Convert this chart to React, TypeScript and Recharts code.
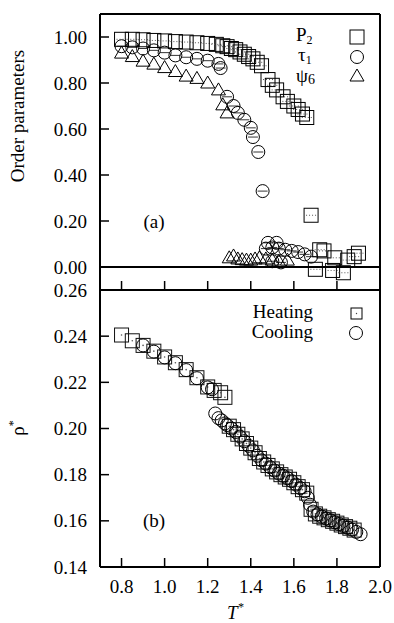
import React from "react";
import {
  ScatterChart,
  Scatter,
  XAxis,
  YAxis,
  ReferenceLine,
} from "recharts";

// ---- panel (a): order parameters ----
const p2T = [0.8, 0.85, 0.9, 0.95, 1.0, 1.05, 1.1, 1.15, 1.2, 1.24, 1.27, 1.29, 1.31, 1.33, 1.35, 1.37, 1.39, 1.41, 1.43, 1.45, 1.48, 1.5, 1.52, 1.55, 1.57, 1.6, 1.62, 1.64, 1.66, 1.68, 1.7, 1.72, 1.74, 1.78, 1.79, 1.83, 1.85, 1.88, 1.9];
const p2V = [0.99, 0.99, 0.988, 0.985, 0.983, 0.98, 0.978, 0.975, 0.972, 0.968, 0.962, 0.958, 0.95, 0.945, 0.935, 0.925, 0.915, 0.905, 0.89, 0.875, 0.815, 0.79, 0.77, 0.74, 0.72, 0.7, 0.685, 0.665, 0.65, 0.225, -0.01, 0.075, 0.07, -0.015, 0.04, -0.025, 0.03, 0.045, 0.06];

const tauT = [0.8, 0.85, 0.9, 0.95, 1.0, 1.05, 1.1, 1.15, 1.2, 1.25, 1.26, 1.29, 1.32, 1.34, 1.37, 1.4, 1.41, 1.435, 1.455, 1.48, 1.52, 1.47, 1.5, 1.53, 1.56, 1.59, 1.62, 1.65, 1.68, 1.5, 1.54];
const tauV = [0.96, 0.955, 0.95, 0.942, 0.932, 0.92, 0.912, 0.905, 0.897, 0.883, 0.865, 0.74, 0.7, 0.67, 0.64, 0.605, 0.565, 0.5, 0.33, 0.105, 0.105, 0.08, 0.085, 0.08, 0.075, 0.07, 0.065, 0.055, 0.045, 0.025, 0.02];

const psiT = [0.8, 0.85, 0.9, 0.95, 1.0, 1.05, 1.1, 1.15, 1.2, 1.25, 1.27, 1.29, 1.3, 1.32, 1.34, 1.36, 1.38, 1.4, 1.42, 1.44, 1.47, 1.5, 1.53, 1.57];
const psiV = [0.93, 0.915, 0.895, 0.882, 0.867, 0.85, 0.83, 0.82, 0.8, 0.77, 0.705, 0.67, 0.04, 0.048, 0.035, 0.032, 0.03, 0.03, 0.035, 0.04, 0.035, 0.03, 0.025, 0.03];

// ---- panel (b): density ----
const heatT = [0.8, 0.85, 0.9, 0.95, 1.0, 1.05, 1.1, 1.15, 1.2, 1.23, 1.26, 1.28, 1.3, 1.32, 1.34, 1.36, 1.38, 1.4, 1.42, 1.44, 1.46, 1.48, 1.5, 1.52, 1.54, 1.56, 1.58, 1.6, 1.62, 1.64, 1.66, 1.68, 1.7, 1.72, 1.74, 1.76, 1.78, 1.8, 1.82, 1.84, 1.86, 1.88];
const heatRho = [0.2405, 0.238, 0.236, 0.2335, 0.231, 0.2285, 0.2255, 0.222, 0.218, 0.2165, 0.2155, 0.2135, 0.201, 0.1995, 0.1975, 0.1955, 0.1935, 0.1915, 0.1895, 0.187, 0.1855, 0.184, 0.1825, 0.1812, 0.18, 0.179, 0.178, 0.1765, 0.1748, 0.1735, 0.172, 0.165, 0.163, 0.162, 0.1613, 0.1605, 0.1598, 0.159, 0.1582, 0.1575, 0.1568, 0.156];

const coolT = [0.9, 0.95, 1.0, 1.05, 1.1, 1.15, 1.2, 1.22, 1.235, 1.25, 1.265, 1.28, 1.29, 1.31, 1.33, 1.35, 1.37, 1.39, 1.41, 1.43, 1.45, 1.47, 1.49, 1.51, 1.53, 1.55, 1.57, 1.59, 1.61, 1.63, 1.65, 1.665, 1.675, 1.69, 1.71, 1.73, 1.75, 1.77, 1.79, 1.81, 1.83, 1.85, 1.87, 1.89, 1.91];
const coolRho = [0.236, 0.2333, 0.2308, 0.2283, 0.2253, 0.2218, 0.2178, 0.217, 0.2065, 0.2045, 0.2035, 0.2022, 0.2015, 0.2, 0.1985, 0.1965, 0.1945, 0.1925, 0.1905, 0.1882, 0.1862, 0.1848, 0.1832, 0.1818, 0.1805, 0.1795, 0.1785, 0.1772, 0.1757, 0.1742, 0.1728, 0.17, 0.167, 0.164, 0.1628, 0.1618, 0.161, 0.1602, 0.1594, 0.1586, 0.1578, 0.157, 0.1562, 0.1552, 0.1542];

const xTicks = [0.8, 1.0, 1.2, 1.4, 1.6, 1.8, 2.0];
const yTicksA = [0, 0.2, 0.4, 0.6, 0.8, 1.0];
const yTicksB = [0.14, 0.16, 0.18, 0.2, 0.22, 0.24, 0.26];

const zip = (xs: number[], ys: number[]) => xs.map((x, i) => ({ x, y: ys[i] }));

const FONT = "'Liberation Serif', 'Times New Roman', serif";
const TL = 9; // inward tick length

// marker shapes
const Square = ({ cx, cy }: any) =>
  cx == null ? null : (
    <g>
      <rect x={cx - 7} y={cy - 7} width={14} height={14} fill="none" stroke="#000" strokeWidth={1} />
      <line x1={cx - 5} x2={cx + 5} y1={cy} y2={cy} stroke="#555" strokeDasharray="1 2" />
    </g>
  );
const SmallSquare = ({ cx, cy }: any) =>
  cx == null ? null : (
    <g>
      <rect x={cx - 7} y={cy - 7} width={14} height={14} fill="none" stroke="#111" strokeWidth={1} />
      <circle cx={cx} cy={cy} r={0.8} fill="#555" />
    </g>
  );
const CircleBar = ({ cx, cy }: any) =>
  cx == null ? null : (
    <g>
      <circle cx={cx} cy={cy} r={6.5} fill="none" stroke="#000" strokeWidth={1} />
      <line x1={cx - 5} x2={cx + 5} y1={cy} y2={cy} stroke="#000" strokeWidth={0.8} />
    </g>
  );
const Circle = ({ cx, cy }: any) =>
  cx == null ? null : <circle cx={cx} cy={cy} r={6.5} fill="none" stroke="#000" strokeWidth={1} />;
const Triangle = ({ cx, cy }: any) =>
  cx == null ? null : (
    <polygon
      points={`${cx},${cy - 7} ${cx - 7},${cy + 5} ${cx + 7},${cy + 5}`}
      fill="none"
      stroke="#000"
      strokeWidth={1}
    />
  );

// ticks
const BottomTick = ({ x, y, payload, showText }: any) => (
  <g>
    <line x1={x} x2={x} y1={y} y2={y - TL} stroke="#000" strokeWidth={1.5} />
    {showText && (
      <text x={x} y={y + 26} textAnchor="middle" fontFamily={FONT} fontSize={19} fill="#000">
        {payload.value.toFixed(1)}
      </text>
    )}
  </g>
);
const TopTick = ({ x, y }: any) => (
  <line x1={x} x2={x} y1={y} y2={y + TL} stroke="#000" strokeWidth={1.5} />
);
const LeftTick = ({ x, y, payload }: any) => (
  <g>
    <line x1={x} x2={x + TL} y1={y} y2={y} stroke="#000" strokeWidth={1.5} />
    <text x={x - 13} y={y + 6.5} textAnchor="end" fontFamily={FONT} fontSize={19} fill="#000">
      {payload.value.toFixed(2)}
    </text>
  </g>
);
const RightTick = ({ x, y }: any) => (
  <line x1={x} x2={x - TL} y1={y} y2={y} stroke="#000" strokeWidth={1.5} />
);

const axisLine = { stroke: "#000", strokeWidth: 2 };

function Axes({ yDomain, yTicks, showX }: any) {
  return [
    <XAxis key="xb" xAxisId="b" dataKey="x" type="number" domain={[0.7, 2.0]} ticks={xTicks}
      height={10} tickSize={0} tickMargin={0} axisLine={axisLine} tickLine={false}
      tick={<BottomTick showText={showX} />} interval={0} />,
    <XAxis key="xt" xAxisId="t" dataKey="x" type="number" orientation="top" domain={[0.7, 2.0]} ticks={xTicks}
      height={4} tickSize={0} tickMargin={0} axisLine={axisLine} tickLine={false}
      tick={<TopTick />} interval={0} />,
    <YAxis key="yl" yAxisId="l" dataKey="y" type="number" domain={yDomain} ticks={yTicks}
      width={100} tickSize={0} tickMargin={0} axisLine={axisLine} tickLine={false}
      tick={<LeftTick />} interval={0} />,
    <YAxis key="yr" yAxisId="r" dataKey="y" type="number" orientation="right" domain={yDomain} ticks={yTicks}
      width={4} tickSize={0} tickMargin={0} axisLine={axisLine} tickLine={false}
      tick={<RightTick />} interval={0} />,
  ];
}

export default function App() {
  return (
    <div style={{ position: "absolute", left: 0, top: 0, width: 394, height: 623, background: "#fff", fontFamily: FONT }}>
      {/* panel (a): plot area y 14..290 */}
      <div style={{ position: "absolute", left: 0, top: 0 }}>
        <ScatterChart width={394} height={300} margin={{ top: 10, right: 10, left: 0, bottom: 0 }}>
          {Axes({ yDomain: [-0.1, 1.1], yTicks: yTicksA, showX: false })}
          <ReferenceLine xAxisId="b" yAxisId="l" y={0} stroke="#000" strokeWidth={2} />
          <Scatter xAxisId="b" yAxisId="l" data={zip(psiT, psiV)} shape={<Triangle />} isAnimationActive={false} />
          <Scatter xAxisId="b" yAxisId="l" data={zip(tauT, tauV)} shape={<CircleBar />} isAnimationActive={false} />
          <Scatter xAxisId="b" yAxisId="l" data={zip(p2T, p2V)} shape={<Square />} isAnimationActive={false} />
        </ScatterChart>
      </div>
      {/* panel (b): plot area y 290..567 */}
      <div style={{ position: "absolute", left: 0, top: 270 }}>
        <ScatterChart width={394} height={353} margin={{ top: 16, right: 10, left: 0, bottom: 46 }}>
          {Axes({ yDomain: [0.14, 0.26], yTicks: yTicksB, showX: true })}
          <Scatter xAxisId="b" yAxisId="l" data={zip(heatT, heatRho)} shape={<SmallSquare />} isAnimationActive={false} />
          <Scatter xAxisId="b" yAxisId="l" data={zip(coolT, coolRho)} shape={<Circle />} isAnimationActive={false} />
        </ScatterChart>
      </div>
      {/* labels and legends */}
      <svg width={394} height={623} style={{ position: "absolute", left: 0, top: 0, pointerEvents: "none" }}
        fontFamily={FONT} fill="#000">
        <text x={296} y={41} fontSize={19}>P<tspan dy={3} fontSize={12}>2</tspan></text>
        <text x={298} y={61} fontSize={19}>τ<tspan dy={3} fontSize={12}>1</tspan></text>
        <text x={296} y={82} fontSize={19}>ψ<tspan dy={2} fontSize={14}>6</tspan></text>
        <rect x={350} y={30} width={14} height={14} fill="none" stroke="#000" strokeWidth={1} />
        <circle cx={357} cy={57} r={6.5} fill="none" stroke="#000" strokeWidth={1} />
        <polygon points="357,69 350,81 364,81" fill="none" stroke="#000" strokeWidth={1} />
        <text x={154} y={228} fontSize={19} textAnchor="middle">(a)</text>

        <text x={313} y={318} fontSize={19} textAnchor="end">Heating</text>
        <text x={313} y={338} fontSize={19} textAnchor="end">Cooling</text>
        <rect x={351} y={308} width={11} height={11} fill="none" stroke="#000" strokeWidth={1} />
        <circle cx={356.5} cy={313.5} r={0.7} fill="#444" />
        <circle cx={356} cy={333} r={6.5} fill="none" stroke="#000" strokeWidth={1} />
        <text x={154} y={527} fontSize={19} textAnchor="middle">(b)</text>

        <text transform="translate(24,116) rotate(-90)" fontSize={19} textAnchor="middle">Order parameters</text>
        <text transform="translate(24,428) rotate(-90)" fontSize={19} textAnchor="middle">ρ<tspan dy={-7} fontSize={12}>*</tspan></text>
        <text x={227} y={619} fontSize={19} fontStyle="italic">T<tspan dy={-8} fontSize={12}>*</tspan></text>
      </svg>
    </div>
  );
}
